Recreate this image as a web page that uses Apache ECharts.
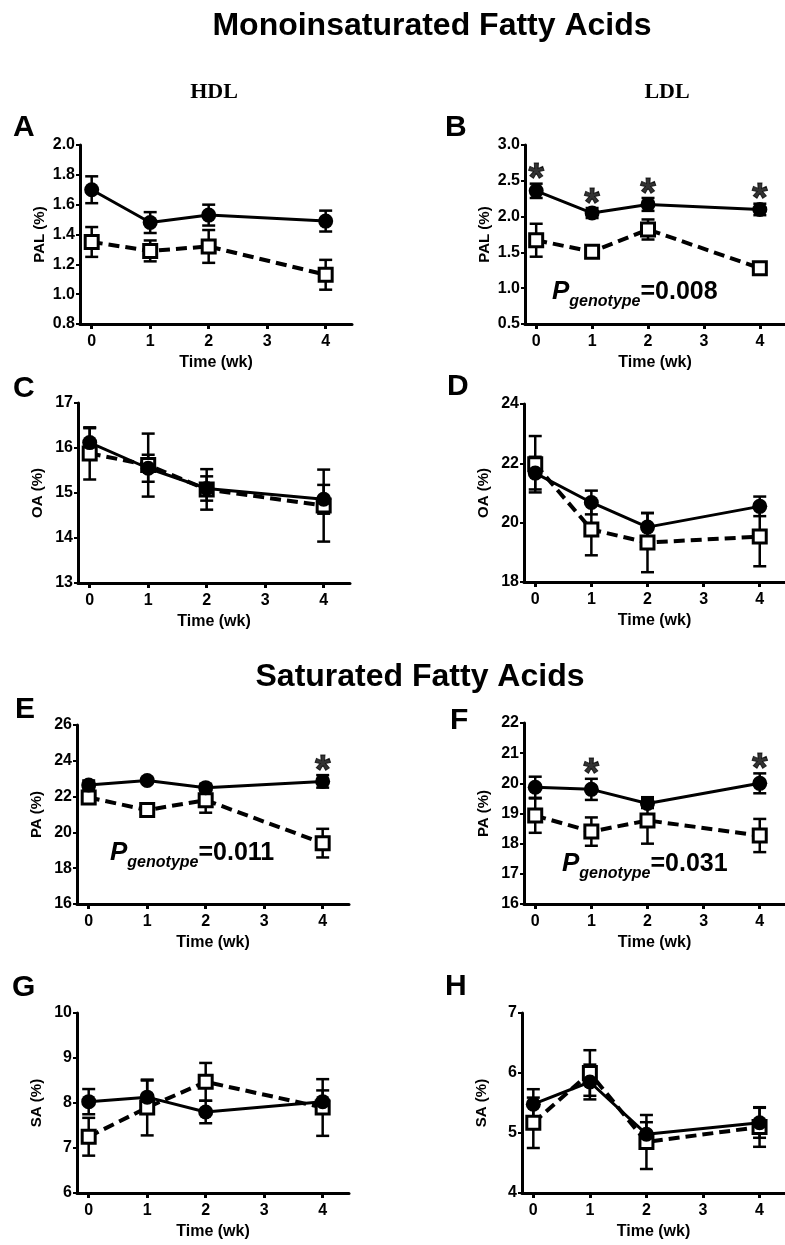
<!DOCTYPE html>
<html>
<head>
<meta charset="utf-8">
<script src="https://cdn.jsdelivr.net/npm/echarts@6.0.0/dist/echarts.min.js"></script>
<style>
  html, body { margin: 0; padding: 0; background: #fff; }
  #main { width: 785px; height: 1245px; }
</style>
</head>
<body>
<div id="main"></div>
<script>
  // time points (wk) and axis ticks
  const weeks = [0, 1, 2, 4];
  const xTicks = [0, 1, 2, 3, 4];

  // A - HDL PAL
  const hdlPalFilled = [1.70, 1.48, 1.53, 1.49];
  const hdlPalFilledSem = [0.09, 0.07, 0.07, 0.07];
  const hdlPalOpen = [1.35, 1.29, 1.32, 1.13];
  const hdlPalOpenSem = [0.10, 0.07, 0.11, 0.10];
  const hdlPalStars = [];

  // B - LDL PAL
  const ldlPalFilled = [2.36, 2.05, 2.17, 2.10];
  const ldlPalFilledSem = [0.10, 0.07, 0.09, 0.08];
  const ldlPalOpen = [1.67, 1.51, 1.82, 1.28];
  const ldlPalOpenSem = [0.23, 0.06, 0.14, 0.08];
  const ldlPalStars = [0, 1, 2, 3];

  // C - HDL OA
  const hdlOaFilled = [16.12, 15.55, 15.10, 14.86];
  const hdlOaFilledSem = [0.32, 0.30, 0.27, 0.32];
  const hdlOaOpen = [15.88, 15.62, 15.08, 14.72];
  const hdlOaOpenSem = [0.58, 0.70, 0.45, 0.80];
  const hdlOaStars = [];

  // D - LDL OA
  const ldlOaFilled = [21.67, 20.68, 19.85, 20.55];
  const ldlOaFilledSem = [0.55, 0.40, 0.47, 0.33];
  const ldlOaOpen = [21.97, 19.77, 19.33, 19.53];
  const ldlOaOpenSem = [0.95, 0.87, 1.00, 1.00];
  const ldlOaStars = [];

  // E - HDL PA
  const hdlPaFilled = [22.65, 22.90, 22.50, 22.85];
  const hdlPaFilledSem = [0.25, 0.15, 0.20, 0.35];
  const hdlPaOpen = [21.95, 21.25, 21.80, 19.40];
  const hdlPaOpenSem = [0.20, 0.20, 0.70, 0.80];
  const hdlPaStars = [3];

  // F - LDL PA
  const ldlPaFilled = [19.87, 19.80, 19.33, 20.00];
  const ldlPaFilledSem = [0.35, 0.35, 0.15, 0.33];
  const ldlPaOpen = [18.93, 18.40, 18.77, 18.27];
  const ldlPaOpenSem = [0.57, 0.47, 0.77, 0.55];
  const ldlPaStars = [1, 3];

  // G - HDL SA
  const hdlSaFilled = [8.03, 8.13, 7.80, 8.03];
  const hdlSaFilledSem = [0.28, 0.37, 0.25, 0.25];
  const hdlSaOpen = [7.25, 7.90, 8.47, 7.90];
  const hdlSaOpenSem = [0.42, 0.62, 0.42, 0.63];
  const hdlSaStars = [];

  // H - LDL SA
  const ldlSaFilled = [5.48, 5.85, 4.98, 5.17];
  const ldlSaFilledSem = [0.25, 0.29, 0.20, 0.25];
  const ldlSaOpen = [5.17, 6.00, 4.85, 5.10];
  const ldlSaOpenSem = [0.42, 0.38, 0.45, 0.33];
  const ldlSaStars = [];

  const FONT = 'Arial, "Liberation Sans", sans-serif';

  // panel layout (pixels) + which arrays go where
  const panels = [
    {letter: 'A', lx: 13, ly: 128, left: 80, top: 145, height: 179, min: 0.8, max: 2.0, step: 0.2, dec: 1, yName: 'PAL (%)',
      filled: hdlPalFilled, filledSem: hdlPalFilledSem, open: hdlPalOpen, openSem: hdlPalOpenSem, stars: hdlPalStars},
    {letter: 'B', lx: 445, ly: 128, left: 525, top: 145, height: 179, min: 0.5, max: 3.0, step: 0.5, dec: 1, yName: 'PAL (%)',
      filled: ldlPalFilled, filledSem: ldlPalFilledSem, open: ldlPalOpen, openSem: ldlPalOpenSem, stars: ldlPalStars},
    {letter: 'C', lx: 13, ly: 389, left: 78, top: 403, height: 180, min: 13, max: 17, step: 1, dec: 0, yName: 'OA (%)',
      filled: hdlOaFilled, filledSem: hdlOaFilledSem, open: hdlOaOpen, openSem: hdlOaOpenSem, stars: hdlOaStars},
    {letter: 'D', lx: 447, ly: 387, left: 524, top: 404, height: 178, min: 18, max: 24, step: 2, dec: 0, yName: 'OA (%)',
      filled: ldlOaFilled, filledSem: ldlOaFilledSem, open: ldlOaOpen, openSem: ldlOaOpenSem, stars: ldlOaStars},
    {letter: 'E', lx: 15, ly: 710, left: 77, top: 725, height: 179, min: 16, max: 26, step: 2, dec: 0, yName: 'PA (%)',
      filled: hdlPaFilled, filledSem: hdlPaFilledSem, open: hdlPaOpen, openSem: hdlPaOpenSem, stars: hdlPaStars},
    {letter: 'F', lx: 450, ly: 721, left: 524, top: 723, height: 181, min: 16, max: 22, step: 1, dec: 0, yName: 'PA (%)',
      filled: ldlPaFilled, filledSem: ldlPaFilledSem, open: ldlPaOpen, openSem: ldlPaOpenSem, stars: ldlPaStars},
    {letter: 'G', lx: 12, ly: 988, left: 77, top: 1013, height: 180, min: 6, max: 10, step: 1, dec: 0, yName: 'SA (%)',
      filled: hdlSaFilled, filledSem: hdlSaFilledSem, open: hdlSaOpen, openSem: hdlSaOpenSem, stars: hdlSaStars},
    {letter: 'H', lx: 445, ly: 987, left: 522, top: 1013, height: 180, min: 4, max: 7, step: 1, dec: 0, yName: 'SA (%)',
      filled: ldlSaFilled, filledSem: ldlSaFilledSem, open: ldlSaOpen, openSem: ldlSaOpenSem, stars: ldlSaStars}
  ];

  // P genotype annotations
  const pNotes = [
    {x: 552, y: 310, value: '=0.008'},
    {x: 110, y: 871, value: '=0.011'},
    {x: 562, y: 882, value: '=0.031'}
  ];

  function errData(m, e) {
    return weeks.map((w, i) => [w, m[i] - e[i], m[i] + e[i]]);
  }

  function renderErr(params, api) {
    const x = api.value(0);
    const lo = api.coord([x, api.value(1)]);
    const hi = api.coord([x, api.value(2)]);
    const hw = 6.5;
    const st = {stroke: '#000', lineWidth: 2.5};
    return {
      type: 'group',
      children: [
        {type: 'line', shape: {x1: lo[0], y1: lo[1], x2: hi[0], y2: hi[1]}, style: st},
        {type: 'line', shape: {x1: hi[0] - hw, y1: hi[1], x2: hi[0] + hw, y2: hi[1]}, style: st},
        {type: 'line', shape: {x1: lo[0] - hw, y1: lo[1], x2: lo[0] + hw, y2: lo[1]}, style: st}
      ]
    };
  }

  const grids = [], xAxes = [], yAxes = [], series = [];

  panels.forEach((p, k) => {
    grids.push({left: p.left, top: p.top, width: 272, height: p.height});

    xAxes.push({
      type: 'value', gridIndex: k, min: -0.2, max: 4.45,
      axisLine: {show: true, onZero: false, lineStyle: {color: '#000', width: 3}},
      axisTick: {show: true, customValues: xTicks, length: 5, lineStyle: {color: '#000', width: 3}},
      axisLabel: {customValues: xTicks, color: '#000', fontFamily: FONT, fontWeight: 'bold', fontSize: 16, margin: 10},
      splitLine: {show: false},
      name: 'Time (wk)', nameLocation: 'middle', nameGap: 31,
      nameTextStyle: {color: '#000', fontFamily: FONT, fontWeight: 'bold', fontSize: 16}
    });

    yAxes.push({
      type: 'value', gridIndex: k, min: p.min, max: p.max, interval: p.step,
      axisLine: {show: true, onZero: false, lineStyle: {color: '#000', width: 3}},
      axisTick: {show: true, length: 4, lineStyle: {color: '#000', width: 2}},
      axisLabel: {color: '#000', fontFamily: FONT, fontWeight: 'bold', fontSize: 16, margin: 5,
        formatter: v => v.toFixed(p.dec)},
      splitLine: {show: false},
      name: p.yName, nameLocation: 'middle', nameGap: 33,
      nameTextStyle: {color: '#000', fontFamily: FONT, fontWeight: 'bold', fontSize: 15}
    });

    // error bars
    series.push({
      type: 'custom', xAxisIndex: k, yAxisIndex: k, renderItem: renderErr, clip: false, z: 1,
      encode: {x: 0, y: [1, 2]}, data: errData(p.open, p.openSem)
    });
    series.push({
      type: 'custom', xAxisIndex: k, yAxisIndex: k, renderItem: renderErr, clip: false, z: 1,
      encode: {x: 0, y: [1, 2]}, data: errData(p.filled, p.filledSem)
    });
    // open squares, dashed
    series.push({
      type: 'line', xAxisIndex: k, yAxisIndex: k, z: 2,
      data: weeks.map((w, i) => [w, p.open[i]]),
      symbol: 'rect', symbolSize: 13, showAllSymbol: true,
      itemStyle: {color: '#fff', borderColor: '#000', borderWidth: 3},
      lineStyle: {color: '#000', width: 4, type: [11, 6]}
    });
    // filled circles, solid
    series.push({
      type: 'line', xAxisIndex: k, yAxisIndex: k, z: 3,
      data: weeks.map((w, i) => [w, p.filled[i]]),
      symbol: 'circle', symbolSize: 15, showAllSymbol: true,
      itemStyle: {color: '#000'},
      lineStyle: {color: '#000', width: 3}
    });
    // significance stars
    if (p.stars.length) {
      series.push({
        type: 'scatter', xAxisIndex: k, yAxisIndex: k, z: 4, symbolSize: 1,
        itemStyle: {color: 'rgba(0,0,0,0)'},
        data: p.stars.map(i => [weeks[i], p.filled[i] + p.filledSem[i]]),
        label: {show: true, position: 'top', distance: -17, formatter: '*', color: '#000',
          fontFamily: FONT, fontWeight: 'bold', fontSize: 40, textBorderColor: '#000', textBorderWidth: 1}
      });
    }
  });

  const graphic = [];
  const head = {fill: '#000', font: 'bold 32px ' + FONT, textAlign: 'center', textVerticalAlign: 'middle'};
  graphic.push({type: 'text', x: 432, y: 26, style: Object.assign({text: 'Monoinsaturated Fatty Acids'}, head)});
  graphic.push({type: 'text', x: 420, y: 677, style: Object.assign({text: 'Saturated Fatty Acids'}, head)});
  const lip = {fill: '#000', font: 'bold 22px "Times New Roman", "Liberation Serif", serif', textAlign: 'center', textVerticalAlign: 'middle'};
  graphic.push({type: 'text', x: 214, y: 92, style: Object.assign({text: 'HDL'}, lip)});
  graphic.push({type: 'text', x: 667, y: 92, style: Object.assign({text: 'LDL'}, lip)});

  panels.forEach(p => {
    graphic.push({type: 'text', x: p.lx, y: p.ly,
      style: {text: p.letter, fill: '#000', font: 'bold 30px ' + FONT, textAlign: 'left', textVerticalAlign: 'middle'}});
  });

  pNotes.forEach(n => {
    graphic.push({type: 'text', x: n.x, y: n.y, style: {
      text: '{p|P}{s|genotype}{v|' + n.value + '}',
      textAlign: 'left', textVerticalAlign: 'bottom',
      rich: {
        p: {fontFamily: FONT, fontWeight: 'bold', fontStyle: 'italic', fontSize: 26, fill: '#000', verticalAlign: 'bottom', padding: [0, 0, 5, 0]},
        s: {fontFamily: FONT, fontWeight: 'bold', fontStyle: 'italic', fontSize: 16, fill: '#000', verticalAlign: 'bottom'},
        v: {fontFamily: FONT, fontWeight: 'bold', fontSize: 25, fill: '#000', verticalAlign: 'bottom', padding: [0, 0, 5, 0]}
      }
    }});
  });

  const myChart = echarts.init(document.getElementById('main'), null, {renderer: 'canvas'});
  myChart.setOption({
    animation: false,
    backgroundColor: '#fff',
    grid: grids,
    xAxis: xAxes,
    yAxis: yAxes,
    series: series,
    graphic: graphic
  });
</script>
</body>
</html>
